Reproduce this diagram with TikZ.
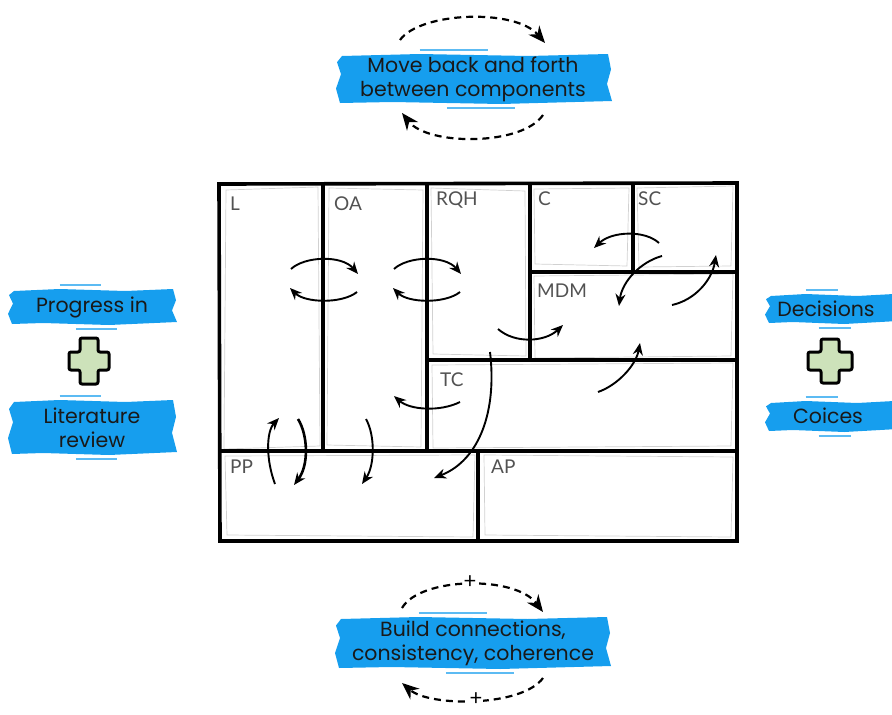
\documentclass[tikz,border=0pt]{standalone}
\usepackage{fontspec}
\setmainfont{Poppins}
\newfontfamily\labfont{Lato}
\usetikzlibrary{arrows.meta}
\definecolor{brush}{RGB}{22,158,238}
\definecolor{crossg}{RGB}{205,226,186}
\newcommand\bandfill[4]{%
 \fill[brush] ({#1+4},{#2+1}) -- ({#1+0.3*(#3-#1)},{#2-1}) -- ({#1+0.7*(#3-#1)},{#2+1}) -- ({#3-2},{#2-1}) -- ({#3+1},{#2+0.3*(#4-#2)}) -- ({#3-3},{#2+0.6*(#4-#2)}) -- ({#3+2},{#4-2}) -- ({#1+0.6*(#3-#1)},{#4+1}) -- ({#1+0.2*(#3-#1)},{#4-1}) -- ({#1+2},{#4}) -- ({#1-2},{#2+0.7*(#4-#2)}) -- ({#1+3},{#2+0.4*(#4-#2)}) -- ({#1-1},{#2+0.15*(#4-#2)}) -- cycle;
 \draw[brush!70, line width=1.5pt] ({#1+0.3*(#3-#1)},{#2-5}) -- ({#1+0.55*(#3-#1)},{#2-5});
 \draw[brush!70, line width=1.5pt] ({#1+0.4*(#3-#1)},{#4+5}) -- ({#1+0.65*(#3-#1)},{#4+5});
}
\begin{document}
\begin{tikzpicture}[x=1pt,y=-1pt,
 frame/.style={line width=3.6pt, line cap=round},
 sketch/.style={black!18, line width=0.7pt},
 lab/.style={anchor=north west, inner sep=0pt, font=\labfont\fontsize{19}{19}\selectfont, text=black!68},
 flow/.style={line width=1.9pt, -{Stealth[length=12pt,width=10pt]}},
 dflow/.style={line width=2.2pt, dash pattern=on 7pt off 5pt, -{Stealth[length=17pt,width=14pt]}},
 btext/.style={font=\fontsize{20.5}{24}\selectfont, align=center, text=black!90, inner sep=0pt},
 plus/.style={fill=white, inner sep=0pt, minimum size=14pt, font=\labfont\fontsize{22}{22}\selectfont},
 crossbox/.style={fill=crossg, draw=black, line width=3pt, rounded corners=2pt, line join=round}
]
\useasboundingbox (0,0) rectangle (892,715);

% sketchy inner gray lines
\draw[sketch] (226,190) -- (318,187) -- (320,446) -- (224,449) -- cycle;
\draw[sketch] (329,188) -- (423,190) -- (421,447) -- (327,445) -- cycle;
\draw[sketch] (431,188) -- (525,191) -- (526,356) -- (433,354) -- cycle;
\draw[sketch] (534,189) -- (629,188) -- (627,266) -- (535,264) -- cycle;
\draw[sketch] (637,188) -- (733,186) -- (731,266) -- (639,267) -- cycle;
\draw[sketch] (534,276) -- (733,274) -- (731,356) -- (535,358) -- cycle;
\draw[sketch] (432,365) -- (733,363) -- (731,446) -- (433,448) -- cycle;
\draw[sketch] (225,456) -- (475,455) -- (473,537) -- (227,535) -- cycle;
\draw[sketch] (484,455) -- (733,457) -- (731,537) -- (485,535) -- cycle;

% frame
\draw[frame] (219,184) -- (737,183) -- (737,541) -- (220,541) -- cycle;
\draw[frame] (323,184) -- (323,451);
\draw[frame] (427,184) -- (427,451);
\draw[frame] (530,184) -- (530,360);
\draw[frame] (633,184) -- (633,272);
\draw[frame] (530,272) -- (737,272);
\draw[frame] (427,360) -- (737,360);
\draw[frame] (220,451) -- (737,451);
\draw[frame] (478,451) -- (478,541);

% labels
\node[lab] (L) at (230,197) {L};
\node[lab] (OA) at (334,197) {OA};
\node[lab] (RQH) at (436,192) {RQH};
\node[lab] (C) at (538,192) {C};
\node[lab] (SC) at (638,192) {SC};
\node[lab] (MDM) at (537,284) {MDM};
\node[lab] (TC) at (440,373) {TC};
\node[lab] (PP) at (230,460) {PP};
\node[lab] (AP) at (491,460) {AP};

% inner arrows
\draw[flow] (291,269) .. controls (305,256) and (342,255) .. (358,274);
\draw[flow] (357,292) .. controls (342,304) and (305,303) .. (290,288);
\draw[flow] (394,269) .. controls (408,256) and (445,255) .. (461,274);
\draw[flow] (460,292) .. controls (445,304) and (408,303) .. (393,288);
\draw[flow] (498,329) .. controls (515,344) and (545,342) .. (563,325);
\draw[flow] (659,243) .. controls (645,230) and (612,231) .. (594,248);
\draw[flow] (662,256) .. controls (640,262) and (622,282) .. (619,306);
\draw[flow] (672,305) .. controls (695,300) and (712,280) .. (716,255);
\draw[flow] (598,392) .. controls (618,385) and (636,365) .. (640,343);
\draw[flow] (460,402) .. controls (440,412) and (410,410) .. (394,396);
\draw[flow] (490,352) .. controls (497,410) and (480,460) .. (434,478);
\draw[flow] (275,484) .. controls (266,460) and (266,432) .. (279,418);
\draw[flow, line width=2.6pt] (298,419) .. controls (308,435) and (309,465) .. (294,485);
\draw[flow] (366,419) .. controls (375,435) and (375,465) .. (362,484);

% top
\bandfill{338}{55}{610}{103}
\node[btext] (top) at (473,79) {Move back and forth\\between components};
\draw[dflow] (400,40) .. controls (420,12) and (515,8) .. (545,43);
\draw[dflow] (543,115) .. controls (522,146) and (428,146) .. (402,113);

% bottom
\bandfill{337}{618}{609}{668}
\node[btext] (bot) at (473,643) {Build connections,\\consistency, coherence};
\draw[dflow] (402,608) .. controls (420,577) and (515,575) .. (543,612);
\draw[dflow] (543,678) .. controls (522,707) and (430,707) .. (402,683);
\node[plus] (p1) at (470,582) {+};
\node[plus] (p2) at (476,699) {+};

% left
\bandfill{10}{290}{175}{324}
\node[btext] (prog) at (92,307) {Progress in};
\bandfill{10}{401}{175}{454}
\node[btext] (lit) at (92,428) {Literature\\review};
\begin{scope}[shift={(89,361)}]
\draw[crossbox] (-9,-23) -- (9,-23) -- (9,-9) -- (20,-9) -- (20,9) -- (9,9) -- (9,23) -- (-9,23) -- (-9,9) -- (-20,9) -- (-20,-9) -- (-9,-9) -- cycle;
\end{scope}

% right
\bandfill{767}{295}{896}{323}
\node[btext] (dec) at (826,309) {Decisions};
\bandfill{767}{402}{896}{431}
\node[btext] (coi) at (828,416) {Coices};
\begin{scope}[shift={(830,361)}]
\draw[crossbox] (-9,-22) -- (9,-22) -- (9,-9) -- (22,-9) -- (22,9) -- (9,9) -- (9,22) -- (-9,22) -- (-9,9) -- (-22,9) -- (-22,-9) -- (-9,-9) -- cycle;
\end{scope}
\end{tikzpicture}
\end{document}
